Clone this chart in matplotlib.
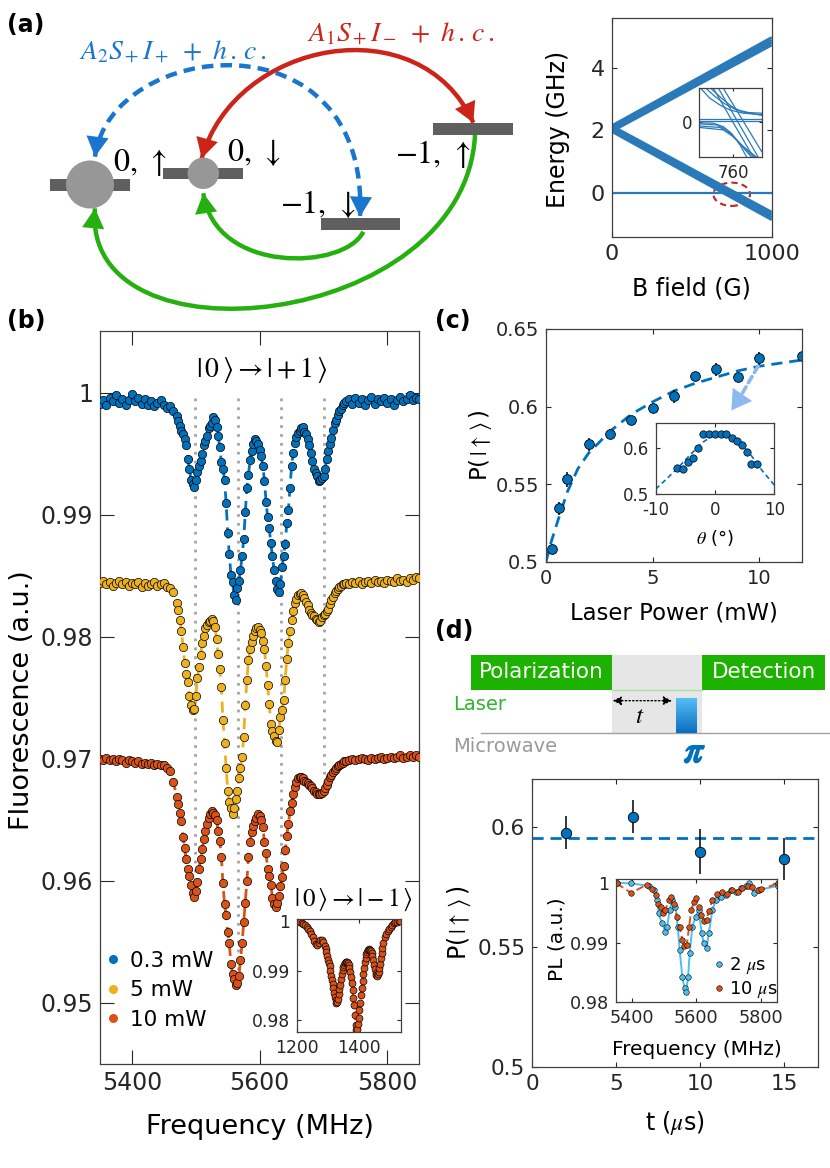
import numpy as np
import matplotlib
matplotlib.use('Agg')
import matplotlib.pyplot as plt
import matplotlib.patheffects as pe
from matplotlib.patches import Rectangle, Ellipse, Circle, PathPatch
from matplotlib.path import Path
from matplotlib.lines import Line2D
from matplotlib.ticker import FuncFormatter

plt.rcParams['font.family'] = ['DejaVu Sans']
plt.rcParams['mathtext.fontset'] = 'stix'
plt.rcParams['axes.unicode_minus'] = False

BLUE = '#0072BD'
YELLOW = '#EDB120'
ORANGE = '#D95319'
LIGHTBLUE = '#4DBEEE'
GREEN = '#1DB100'

# ---------------- data ----------------
# (a) energy levels vs B field (GHz)
energy_B = [0, 1000]
upper_E = [[1.97, 4.72], [2.03, 4.80], [2.09, 4.88], [2.15, 4.96]]
lower_E = [[1.97, -0.84], [2.03, -0.76], [2.09, -0.68], [2.15, -0.60]]
flat_E = [[0.0, 0.0]]

# (a) inset: anticrossing near 760 G (arbitrary units)
inset_curves = [
    ([742.7, 747.6, 752.9, 758.2, 765.3, 775.0], [0.94, 0.66, 0.47, 0.33, 0.24, 0.20]),
    ([745.5, 750.3, 755.6, 760.9, 767.9, 775.0], [0.94, 0.71, 0.50, 0.35, 0.26, 0.24]),
    ([748.0, 753.8, 759.1, 764.4, 775.0], [0.94, 0.66, 0.43, 0.28, 0.18]),
    ([749.4, 770.6], [0.94, -1.0]),
    ([752.1, 773.2], [0.94, -1.0]),
    ([754.7, 775.0], [0.94, -0.84]),
    ([742.0, 749.4, 754.7, 759.1, 763.5, 767.1], [-0.03, -0.04, -0.14, -0.33, -0.65, -1.0]),
    ([742.0, 751.2, 756.5, 761.8, 766.2, 769.7], [-0.06, -0.09, -0.23, -0.51, -0.79, -1.0]),
    ([742.0, 752.9, 758.2, 763.5, 768.8, 771.5], [-0.12, -0.16, -0.33, -0.61, -0.89, -1.0]),
    ([742.0, 754.7, 760.0, 765.3, 772.4], [-0.16, -0.23, -0.42, -0.70, -1.0]),
    ([742.0, 775.0], [0.07, 0.07]),
    ([742.0, 775.0], [0.01, 0.01]),
]

# (b) ODMR spectra, frequency sweep (MHz)
freq = np.concatenate([np.arange(5350, 5470, 5), np.arange(5470, 5735, 2.5), np.arange(5735, 5855, 5)])
pl_03mW = [
    0.9991, 0.9994, 0.9990, 0.9996, 0.9993, 0.9998, 0.9992, 0.9995, 0.9990, 0.9994,
    0.9999, 0.9993, 0.9996, 0.9991, 0.9995, 0.9990, 0.9993, 0.9989, 0.9992, 0.9994,
    0.9990, 0.9988, 0.9989, 0.9985,
    0.9981, 0.9977, 0.9973, 0.9969, 0.9966, 0.9962, 0.9957, 0.9946, 0.9938, 0.9929,
    0.9925, 0.9923, 0.9929, 0.9935, 0.9940, 0.9944, 0.9950, 0.9957, 0.9961, 0.9965,
    0.9971, 0.9973, 0.9975, 0.9980, 0.9978, 0.9972, 0.9965, 0.9956, 0.9943, 0.9938,
    0.9929, 0.9910, 0.9885, 0.9868, 0.9851, 0.9845, 0.9834, 0.9830, 0.9840, 0.9846,
    0.9855, 0.9866, 0.9880, 0.9902, 0.9922, 0.9933, 0.9945, 0.9952, 0.9958, 0.9962,
    0.9961, 0.9958, 0.9953, 0.9948, 0.9940, 0.9928, 0.9911, 0.9898, 0.9889, 0.9877,
    0.9866, 0.9855, 0.9846, 0.9839, 0.9837, 0.9843, 0.9857, 0.9866, 0.9876, 0.9893,
    0.9904, 0.9922, 0.9940, 0.9951, 0.9959, 0.9964, 0.9967, 0.9969, 0.9971, 0.9972,
    0.9968, 0.9966, 0.9962, 0.9957, 0.9951, 0.9944, 0.9938, 0.9934, 0.9932, 0.9928,
    0.9929, 0.9930, 0.9932, 0.9938, 0.9946, 0.9952, 0.9958, 0.9963, 0.9970, 0.9975,
    0.9978, 0.9982, 0.9985, 0.9987, 0.9990, 0.9992,
    0.9993, 0.9995, 0.9991, 0.9996, 0.9992, 0.9995, 0.9990, 0.9994, 0.9997, 0.9991,
    0.9995, 0.9993, 0.9996, 0.9992, 0.9995, 0.9990, 0.9994, 0.9997, 0.9993, 0.9995,
    0.9998, 0.9994, 0.9996, 0.9995,
]
pl_5mW = [
    0.9844, 0.9846, 0.9843, 0.9845, 0.9842, 0.9844, 0.9846, 0.9843, 0.9845, 0.9842,
    0.9844, 0.9843, 0.9845, 0.9841, 0.9844, 0.9842, 0.9843, 0.9845, 0.9842, 0.9843,
    0.9844, 0.9841, 0.9840, 0.9837,
    0.9828, 0.9822, 0.9814, 0.9805, 0.9792, 0.9779, 0.9770, 0.9763, 0.9752, 0.9744,
    0.9740, 0.9741, 0.9752, 0.9766, 0.9775, 0.9785, 0.9795, 0.9801, 0.9807, 0.9810,
    0.9812, 0.9813, 0.9815, 0.9813, 0.9808, 0.9798, 0.9786, 0.9774, 0.9759, 0.9732,
    0.9713, 0.9693, 0.9674, 0.9665, 0.9660, 0.9655, 0.9660, 0.9667, 0.9674, 0.9684,
    0.9693, 0.9702, 0.9718, 0.9744, 0.9765, 0.9781, 0.9790, 0.9796, 0.9801, 0.9805,
    0.9807, 0.9808, 0.9806, 0.9803, 0.9797, 0.9790, 0.9776, 0.9761, 0.9745, 0.9729,
    0.9723, 0.9719, 0.9715, 0.9714, 0.9724, 0.9734, 0.9740, 0.9748, 0.9765, 0.9782,
    0.9795, 0.9805, 0.9814, 0.9821, 0.9828, 0.9831, 0.9834, 0.9835, 0.9836, 0.9834,
    0.9832, 0.9829, 0.9826, 0.9822, 0.9820, 0.9818, 0.9817, 0.9815, 0.9814, 0.9812,
    0.9813, 0.9816, 0.9818, 0.9819, 0.9821, 0.9823, 0.9827, 0.9830, 0.9833, 0.9836,
    0.9838, 0.9839, 0.9841, 0.9842, 0.9843, 0.9843,
    0.9844, 0.9843, 0.9845, 0.9844, 0.9846, 0.9843, 0.9845, 0.9846, 0.9844, 0.9847,
    0.9845, 0.9846, 0.9844, 0.9847, 0.9846, 0.9845, 0.9848, 0.9846, 0.9847, 0.9845,
    0.9848, 0.9847, 0.9849, 0.9848,
]
pl_10mW = [
    0.9700, 0.9699, 0.9701, 0.9699, 0.9700, 0.9698, 0.9700, 0.9699, 0.9697, 0.9699,
    0.9698, 0.9697, 0.9698, 0.9696, 0.9697, 0.9696, 0.9697, 0.9695, 0.9696, 0.9695,
    0.9695, 0.9693, 0.9690, 0.9681,
    0.9669, 0.9663, 0.9656, 0.9649, 0.9636, 0.9627, 0.9618, 0.9610, 0.9604, 0.9597,
    0.9590, 0.9587, 0.9592, 0.9599, 0.9610, 0.9618, 0.9626, 0.9634, 0.9641, 0.9647,
    0.9652, 0.9655, 0.9657, 0.9656, 0.9654, 0.9650, 0.9641, 0.9633, 0.9620, 0.9598,
    0.9581, 0.9572, 0.9558, 0.9549, 0.9532, 0.9524, 0.9520, 0.9515, 0.9516, 0.9522,
    0.9535, 0.9549, 0.9566, 0.9582, 0.9600, 0.9620, 0.9632, 0.9640, 0.9645, 0.9649,
    0.9652, 0.9655, 0.9653, 0.9650, 0.9644, 0.9632, 0.9623, 0.9610, 0.9604, 0.9597,
    0.9586, 0.9581, 0.9579, 0.9582, 0.9588, 0.9596, 0.9603, 0.9612, 0.9625, 0.9637,
    0.9647, 0.9657, 0.9664, 0.9671, 0.9677, 0.9681, 0.9684, 0.9685, 0.9685, 0.9684,
    0.9682, 0.9681, 0.9680, 0.9679, 0.9678, 0.9676, 0.9674, 0.9673, 0.9671, 0.9671,
    0.9671, 0.9672, 0.9674, 0.9676, 0.9679, 0.9682, 0.9685, 0.9687, 0.9689, 0.9691,
    0.9693, 0.9694, 0.9695, 0.9696, 0.9697, 0.9698,
    0.9698, 0.9699, 0.9700, 0.9699, 0.9700, 0.9701, 0.9700, 0.9699, 0.9701, 0.9700,
    0.9701, 0.9702, 0.9700, 0.9701, 0.9702, 0.9701, 0.9702, 0.9703, 0.9701, 0.9702,
    0.9703, 0.9702, 0.9703, 0.9702,
]
series_labels = ['0.3 mW', '5 mW', '10 mW']
resonances = [5498, 5566, 5633, 5700]
resonance_bottom = [0.9588, 0.9510, 0.9580, 0.9670]

# (b) inset: |0> -> |-1> at 10 mW
freq_m1 = np.concatenate([np.arange(1200, 1290, 5), np.arange(1290, 1480, 2.5), np.arange(1480, 1540, 5)])
pl_m1 = [
    1.0000, 0.9999, 0.9997, 0.9995, 0.9993, 0.9991, 0.9988, 0.9984, 0.9979, 0.9973,
    0.9967, 0.9960, 0.9953, 0.9951, 0.9955, 0.9961, 0.9962, 0.9958,
    0.9949, 0.9944, 0.9937, 0.9930, 0.9922, 0.9916, 0.9909, 0.9900, 0.9890, 0.9882,
    0.9873, 0.9864, 0.9855, 0.9847, 0.9840, 0.9835, 0.9836, 0.9843, 0.9852, 0.9862,
    0.9872, 0.9883, 0.9893, 0.9901, 0.9908, 0.9912, 0.9915, 0.9917, 0.9918, 0.9917,
    0.9915, 0.9911, 0.9905, 0.9897, 0.9888, 0.9875, 0.9860, 0.9845, 0.9830, 0.9810,
    0.9790, 0.9781, 0.9782, 0.9792, 0.9805, 0.9820, 0.9835, 0.9850, 0.9864, 0.9879,
    0.9893, 0.9906, 0.9917, 0.9926, 0.9933, 0.9938, 0.9942, 0.9943, 0.9942, 0.9941,
    0.9939, 0.9935, 0.9930, 0.9921, 0.9911, 0.9903, 0.9896, 0.9892, 0.9890, 0.9893,
    0.9898, 0.9905, 0.9914, 0.9925, 0.9936, 0.9946,
    0.9956, 0.9967, 0.9974, 0.9979, 0.9984, 0.9988, 0.9992, 0.9995, 0.9997, 0.9998,
    0.9999, 1.0000,
]

# (c) polarization vs laser power
power = [0.3, 0.6, 1.0, 2.0, 3.0, 4.0, 5.0, 6.0, 7.0, 8.0, 9.0, 10.0, 12.0]
p_up = [0.5082, 0.5344, 0.5531, 0.5756, 0.5823, 0.5911, 0.5988, 0.6066, 0.6194, 0.6240, 0.6188, 0.6311, 0.6323]
p_up_err = [0.003, 0.004, 0.005, 0.004, 0.003, 0.003, 0.002, 0.004, 0.003, 0.004, 0.002, 0.004, 0.002]
fit_power = [0, 0.25, 0.5, 1, 1.5, 2, 3, 4, 5, 6, 7, 8, 9, 10, 11, 12]
fit_p_up = [0.500, 0.513, 0.524, 0.545, 0.560, 0.570, 0.584, 0.595, 0.603, 0.610, 0.615, 0.619, 0.623, 0.626, 0.628, 0.630]

# (c) inset: polarization vs misalignment angle
theta = [-6.35, -5.34, -4.6, -3.76, -2.8, -1.97, -1.0, 0.0, 0.96, 1.85, 2.81, 3.76, 4.6, 5.45, 6.07, 7.03]
p_theta = [0.5558, 0.5543, 0.570, 0.5772, 0.5994, 0.6287, 0.6287, 0.630, 0.6287, 0.629, 0.6208, 0.6144, 0.6058, 0.5914, 0.5644, 0.5644]
fit_theta = [-10, -8, -6, -4, -2, 0, 1, 2, 4, 6, 8, 10]
fit_p_theta = [0.511, 0.535, 0.560, 0.587, 0.612, 0.628, 0.630, 0.629, 0.614, 0.585, 0.550, 0.520]

# (d) polarization vs dark time
t_dark = [2, 6, 10, 15]
p_dark = [0.5975, 0.6042, 0.5896, 0.5865]
p_dark_err = [0.007, 0.0068, 0.0093, 0.0087]
p_dark_mean = 0.5954

# (d) inset: spectra after 2 us and 10 us
f_2us = [5353, 5398, 5452, 5467, 5478, 5483, 5493, 5504, 5509, 5517, 5524, 5535, 5542, 5548, 5556, 5563,
         5568, 5574, 5579, 5587, 5597, 5607, 5616, 5623, 5631, 5638, 5649, 5659, 5675, 5690, 5706, 5721,
         5737, 5752, 5763, 5779, 5794, 5851]
pl_2us = [1.0001, 1.0, 0.9996, 0.9989, 0.9972, 0.9950, 0.9933, 0.9919, 0.9927, 0.9955, 0.9972, 0.9961,
          0.9927, 0.9888, 0.9843, 0.9824, 0.9818, 0.9843, 0.9883, 0.9927, 0.9944, 0.9955, 0.9916, 0.9899,
          0.9891, 0.9916, 0.9955, 0.9972, 0.9978, 0.9981, 0.9989, 0.9985, 0.9992, 0.9996, 1.0, 0.9984,
          0.9989, 0.9996]
f_10us = [5353, 5398, 5446, 5461, 5474, 5480, 5489, 5496, 5504, 5514, 5521, 5530, 5540, 5548, 5556, 5561,
          5570, 5577, 5584, 5592, 5599, 5607, 5614, 5623, 5631, 5638, 5649, 5664, 5680, 5695, 5711, 5727,
          5742, 5758, 5773, 5789, 5800, 5851]
pl_10us = [1.0, 0.9984, 0.9998, 0.9991, 0.9980, 0.9966, 0.9961, 0.9950, 0.9955, 0.9972, 0.9978, 0.9966,
           0.9944, 0.9927, 0.9905, 0.9894, 0.9897, 0.9927, 0.9955, 0.9969, 0.9975, 0.9961, 0.9947, 0.9936,
           0.9939, 0.9953, 0.9972, 0.9983, 0.9986, 0.9983, 0.9989, 0.9986, 0.9992, 0.9996, 0.9994, 0.9989,
           0.9990, 1.0]

# ---------------- figure ----------------
W, H = 830, 1168
fig = plt.figure(figsize=(W / 100, H / 100), dpi=100)


def px_axes(left, top, right, bottom):
    return fig.add_axes([left / W, 1 - bottom / H, (right - left) / W, (bottom - top) / H])


gfmt = FuncFormatter(lambda v, p: '%g' % v)


def style(ax, fs, tl):
    ax.tick_params(direction='in', top=True, right=True, length=tl, width=0.8,
                   labelsize=fs, colors='#262626', pad=5)
    for s in ax.spines.values():
        s.set_color('#404040')
        s.set_linewidth(0.9)
    ax.yaxis.set_major_formatter(gfmt)


# overlay for the level diagram, pulse sequence and panel letters
ov = fig.add_axes([0, 0, 1, 1])
ov.set_xlim(0, W)
ov.set_ylim(H, 0)
ov.axis('off')


def arc(pts, color, ls='-', heads=()):
    codes = [Path.MOVETO, Path.CURVE4, Path.CURVE4, Path.CURVE4]
    ov.add_patch(PathPatch(Path(pts, codes), fc='none', ec=color, lw=3.2, ls=ls, capstyle='butt'))
    for tip, ctrl in heads:
        tip = np.array(tip, float)
        d = np.array(ctrl, float) - tip
        d = d / np.hypot(*d)
        ov.annotate('', xy=tip, xytext=tip + 14 * d,
                    arrowprops=dict(arrowstyle='-|>,head_length=0.9,head_width=0.5', color=color,
                                    lw=0, mutation_scale=16, shrinkA=0, shrinkB=0))


RED_A = '#CC2418'
BLUE_A = '#1A75CF'
GREEN_A = '#25B010'

# level diagram arcs
red_pts = [(201.7, 158.3), (235, 40), (420, 5), (473.3, 122.7)]
blue_pts = [(95, 156.7), (110, 40), (370, 10), (360, 216.7)]
green1_pts = [(363.3, 231.7), (345, 270), (215, 275), (203.3, 193.3)]
green2_pts = [(475, 135), (465, 330), (80, 370), (95, 208.3)]
arc(green2_pts, GREEN_A, heads=[(green2_pts[3], green2_pts[2])])
arc(green1_pts, GREEN_A, heads=[(green1_pts[3], green1_pts[2])])

# level bars and populations
bar_c = '#5f5f5f'
for (x0, y0) in [(50, 179), (163.3, 167.7), (320.7, 218.3), (433.3, 123.3)]:
    ov.add_patch(Rectangle((x0, y0), 79.5, 11.5, color=bar_c, lw=0, zorder=3))
ov.add_patch(Circle((90, 184.5), 24, color='#979797', lw=0, zorder=4))
ov.add_patch(Circle((203.3, 173.3), 15.7, color='#979797', lw=0, zorder=4))

arc(blue_pts, BLUE_A, ls=(0, (2.6, 1.6)), heads=[(blue_pts[0], blue_pts[1]), (blue_pts[3], blue_pts[2])])
arc(red_pts, RED_A, heads=[(red_pts[0], red_pts[1]), (red_pts[3], red_pts[2])])

lvl_fs = 23
ov.text(113, 163, r'$0,\,\uparrow$', fontsize=lvl_fs, va='center', ha='left')
ov.text(227, 153, r'$0,\,\downarrow$', fontsize=lvl_fs, va='center', ha='left')
ov.text(280, 204, r'$-1,\,\downarrow$', fontsize=lvl_fs, va='center', ha='left')
ov.text(395, 154, r'$-1,\,\uparrow$', fontsize=lvl_fs, va='center', ha='left')
ov.text(79, 50, r'$A_2S_+I_+\ +\ h\,.\,c\,.$', fontsize=20, color=BLUE_A, va='center', ha='left')
ov.text(307, 32, r'$A_1S_+I_-\ +\ h\,.\,c\,.$', fontsize=20, color=RED_A, va='center', ha='left')

# panel letters
for lab, x, y in [('(a)', 7, 25), ('(b)', 7, 321), ('(c)', 435, 321), ('(d)', 435, 631)]:
    ov.text(x, y, lab, fontsize=17, fontweight='bold', ha='left', va='center')

# pulse sequence
ov.add_patch(Rectangle((611.7, 655), 90.6, 78, color='#E6E6E6', lw=0))
ov.add_patch(Rectangle((471, 655), 140.7, 35, color=GREEN, lw=0))
ov.add_patch(Rectangle((702.3, 655), 122.7, 35, color=GREEN, lw=0))
ov.plot([611.7, 702.3], [690, 690], color='#A8E39C', lw=1)
ov.plot([481, 830], [733.3, 733.3], color='#A0A0A0', lw=1)
grad = np.linspace(0, 1, 60).reshape(-1, 1)
ov.imshow(grad, extent=(675.7, 696, 733, 698.3), cmap=matplotlib.colors.LinearSegmentedColormap.from_list(
    'pulse', ['#55BDF7', '#0A6FBF']), aspect='auto', zorder=3)
ov.set_xlim(0, W)
ov.set_ylim(H, 0)
ov.text(541, 672.5, 'Polarization', color='white', fontsize=15.5, ha='center', va='center')
ov.text(763.6, 672.5, 'Detection', color='white', fontsize=15.5, ha='center', va='center')
ov.text(453, 704, 'Laser', color='#2DB52D', fontsize=14, ha='left', va='center')
ov.text(453, 747, 'Microwave', color='#9A9A9A', fontsize=14, ha='left', va='center')
ov.annotate('', xy=(672, 700.7), xytext=(612.7, 700.7),
            arrowprops=dict(arrowstyle='<|-|>,head_length=0.5,head_width=0.25', ls=':', lw=1,
                            color='k', mutation_scale=10, shrinkA=0, shrinkB=0))
ov.text(640, 716, r'$t$', fontsize=18, ha='center', va='center')
ov.text(695, 752, r'$\pi$', fontsize=27, color=BLUE, ha='center', va='center',
        path_effects=[pe.withStroke(linewidth=1.3, foreground=BLUE)])

# ---------------- (a) energy vs B ----------------
ax_e = px_axes(611.7, 18.3, 771.7, 236.7)
for e in upper_E + lower_E:
    ax_e.plot(energy_B, e, color='#2A7AB9', lw=2.0, solid_capstyle='butt')
for e in flat_E:
    ax_e.plot(energy_B, e, color='#2A7AB9', lw=1.6)
ax_e.add_patch(Ellipse((750, -0.03), 229, 0.74, fill=False, ec='#C8231B', ls=(0, (3, 2)), lw=1.5))
ax_e.set_xlim(0, 1000)
ax_e.set_ylim(-1.38, 5.57)
ax_e.set_xticks([0, 1000])
ax_e.set_yticks([0, 2, 4])
style(ax_e, 16, 3.6)
ax_e.set_xlabel('B field (G)', fontsize=17)
ax_e.set_ylabel('Energy (GHz)', fontsize=17)
ax_e.xaxis.set_label_coords(0.5, -0.237)
ax_e.xaxis.label.set_va('center')
ax_e.yaxis.set_label_coords(-0.336, 0.489)
ax_e.yaxis.label.set_va('center')

ax_ei = px_axes(699.3, 88.3, 761.7, 157.3)
for bx, ey in inset_curves:
    ax_ei.plot(bx, ey, color='#2A7AB9', lw=0.9)
ax_ei.set_xlim(742, 775)
ax_ei.set_ylim(-1.0, 0.94)
ax_ei.set_xticks([760])
ax_ei.set_yticks([0])
style(ax_ei, 12, 2.5)

# ---------------- (b) ODMR ----------------
ax_b = px_axes(100, 330.7, 419.3, 1064)
for f0, yb in zip(resonances, resonance_bottom):
    ax_b.plot([f0, f0], [0.9996, yb], color='#A5A5A5', ls=(0, (1, 2.2)), lw=2, zorder=1)
for vals, c in zip([pl_03mW, pl_5mW, pl_10mW], [BLUE, YELLOW, ORANGE]):
    ax_b.plot(freq, vals, color=c, ls=(0, (4, 2.5)), lw=2, zorder=2)
    ax_b.plot(freq, vals, 'o', ms=6, mfc=c, mec='k', mew=0.5, zorder=3)
ax_b.set_xlim(5350, 5850)
ax_b.set_ylim(0.945, 1.0051)
ax_b.set_xticks([5400, 5600, 5800])
ax_b.set_yticks([0.95, 0.96, 0.97, 0.98, 0.99, 1.0])
style(ax_b, 17, 10)
ax_b.set_xlabel('Frequency (MHz)', fontsize=19.5)
ax_b.set_ylabel('Fluorescence (a.u.)', fontsize=19.5)
ax_b.xaxis.set_label_coords(0.5, -0.086)
ax_b.xaxis.label.set_va('center')
ax_b.yaxis.set_label_coords(-0.244, 0.496)
ax_b.yaxis.label.set_va('center')
ax_b.text(0.506, 0.947, r'$|\,0\,\rangle \rightarrow |+1\,\rangle$', transform=ax_b.transAxes,
          fontsize=20, ha='center', va='center')
handles = [Line2D([], [], marker='o', ls='none', mfc=c, mec='none', ms=6.5) for c in [BLUE, YELLOW, ORANGE]]
ax_b.legend(handles, series_labels, loc='lower left', bbox_to_anchor=(0.006, 0.047), frameon=False,
            fontsize=15.5, handlelength=1.0, handletextpad=0.3, labelspacing=0.44, borderpad=0,
            borderaxespad=0)

ax_bi = px_axes(297.3, 919.3, 400.7, 1032.3)
ax_bi.plot(freq_m1, pl_m1, color=ORANGE, ls=(0, (4, 2)), lw=1.5)
ax_bi.plot(freq_m1, pl_m1, 'o', ms=5, mfc=ORANGE, mec='k', mew=0.5)
ax_bi.set_xlim(1200, 1537)
ax_bi.set_ylim(0.9776, 1.0003)
ax_bi.set_xticks([1200, 1400])
ax_bi.set_yticks([0.98, 0.99, 1.0])
style(ax_bi, 12.3, 3)
ax_bi.xaxis.set_major_formatter(gfmt)
fig.text(353 / W, 1 - 900 / H, r'$|\,0\,\rangle \rightarrow |-1\,\rangle$', fontsize=18,
         ha='center', va='center')

# ---------------- (c) laser power ----------------
ax_c = px_axes(546, 329, 801.7, 561.7)
ax_c.plot(fit_power, fit_p_up, color=BLUE, ls=(0, (4, 2.5)), lw=2)
ax_c.errorbar(power, p_up, yerr=p_up_err, fmt='o', ms=7, mfc=BLUE, mec='k', mew=0.6,
              ecolor='k', elinewidth=1.1, capsize=0)
ax_c.annotate('', xy=(9.0, 0.6035), xytext=(9.95, 0.626),
              arrowprops=dict(arrowstyle='-', ls=(0, (2, 1.3)), lw=2.6, color='#8DB9F0',
                              shrinkA=0, shrinkB=0))
ax_c.annotate('', xy=(8.7, 0.5975), xytext=(9.1, 0.6055),
              arrowprops=dict(arrowstyle='-|>,head_length=1.0,head_width=0.6', lw=0, color='#8DB9F0',
                              mutation_scale=14, shrinkA=0, shrinkB=0))
ax_c.set_xlim(0, 12)
ax_c.set_ylim(0.5, 0.65)
ax_c.set_xticks([0, 5, 10])
ax_c.set_yticks([0.5, 0.55, 0.6, 0.65])
style(ax_c, 14, 3.6)
ax_c.set_xlabel('Laser Power (mW)', fontsize=16.4)
ax_c.set_ylabel(r'P($\,|\uparrow\,\rangle\,$)', fontsize=16.4)
ax_c.xaxis.set_label_coords(0.5, -0.22)
ax_c.xaxis.label.set_va('center')
ax_c.yaxis.set_label_coords(-0.258, 0.5)
ax_c.yaxis.label.set_va('center')

ax_ci = px_axes(655.7, 423.3, 774.3, 494.3)
ax_ci.plot(fit_theta, fit_p_theta, color=BLUE, ls=(0, (3, 2)), lw=1.2)
ax_ci.plot(theta, p_theta, 'o', ms=5.3, mfc=BLUE, mec='k', mew=0.5)
ax_ci.set_xlim(-10, 10)
ax_ci.set_ylim(0.5, 0.652)
ax_ci.set_xticks([-10, 0, 10])
ax_ci.set_yticks([0.5, 0.6])
style(ax_ci, 12, 3)
ax_ci.set_xlabel(r'$\theta$ (°)', fontsize=13)
ax_ci.xaxis.set_label_coords(0.5, -0.62)
ax_ci.xaxis.label.set_va('center')

# ---------------- (d) dark time ----------------
ax_d = px_axes(532.3, 778.7, 817.7, 1066.7)
ax_d.axhline(p_dark_mean, color=BLUE, ls=(0, (4, 2.5)), lw=2)
ax_d.errorbar(t_dark, p_dark, yerr=p_dark_err, fmt='o', ms=7.5, mfc=BLUE, mec='k', mew=0.6,
              ecolor='k', elinewidth=1.1, capsize=0)
ax_d.set_xlim(0, 17)
ax_d.set_ylim(0.5, 0.62)
ax_d.set_xticks([0, 5, 10, 15])
ax_d.set_yticks([0.5, 0.55, 0.6])
style(ax_d, 15.5, 3.6)
ax_d.set_xlabel(r't ($\mu$s)', fontsize=17)
ax_d.set_ylabel(r'P($\,|\uparrow\,\rangle\,$)', fontsize=17)
ax_d.xaxis.set_label_coords(0.5, -0.197)
ax_d.xaxis.label.set_va('center')
ax_d.yaxis.set_label_coords(-0.257, 0.5)
ax_d.yaxis.label.set_va('center')

ax_di = px_axes(615.7, 879.3, 777.3, 1002.3)
ax_di.plot(f_2us, pl_2us, color=LIGHTBLUE, lw=1.4)
ax_di.plot(f_10us, pl_10us, color=ORANGE, ls=(0, (4, 2)), lw=1.4)
ax_di.plot(f_2us, pl_2us, 'o', ms=4, mfc=LIGHTBLUE, mec='k', mew=0.4)
ax_di.plot(f_10us, pl_10us, 'o', ms=4, mfc=ORANGE, mec='k', mew=0.4)
ax_di.set_xlim(5350, 5850)
ax_di.set_ylim(0.98, 1.0007)
ax_di.set_xticks([5400, 5600, 5800])
ax_di.set_yticks([0.98, 0.99, 1.0])
style(ax_di, 12.7, 3)
ax_di.set_xlabel('Frequency (MHz)', fontsize=14.5)
ax_di.set_ylabel('PL (a.u.)', fontsize=14.5)
ax_di.xaxis.set_label_coords(0.5, -0.38)
ax_di.xaxis.label.set_va('center')
ax_di.yaxis.set_label_coords(-0.363, 0.51)
ax_di.yaxis.label.set_va('center')
h2 = [Line2D([], [], marker='o', ls='none', mfc=c, mec='k', mew=0.4, ms=4) for c in [LIGHTBLUE, ORANGE]]
ax_di.legend(h2, [r'2 $\mu$s', r'10 $\mu$s'], loc='lower right', bbox_to_anchor=(1.0, 0.02),
             frameon=False, fontsize=13, handlelength=0.6, handletextpad=0.25, labelspacing=0.15,
             borderpad=0, borderaxespad=0)

fig.savefig('out.png', dpi=100)
